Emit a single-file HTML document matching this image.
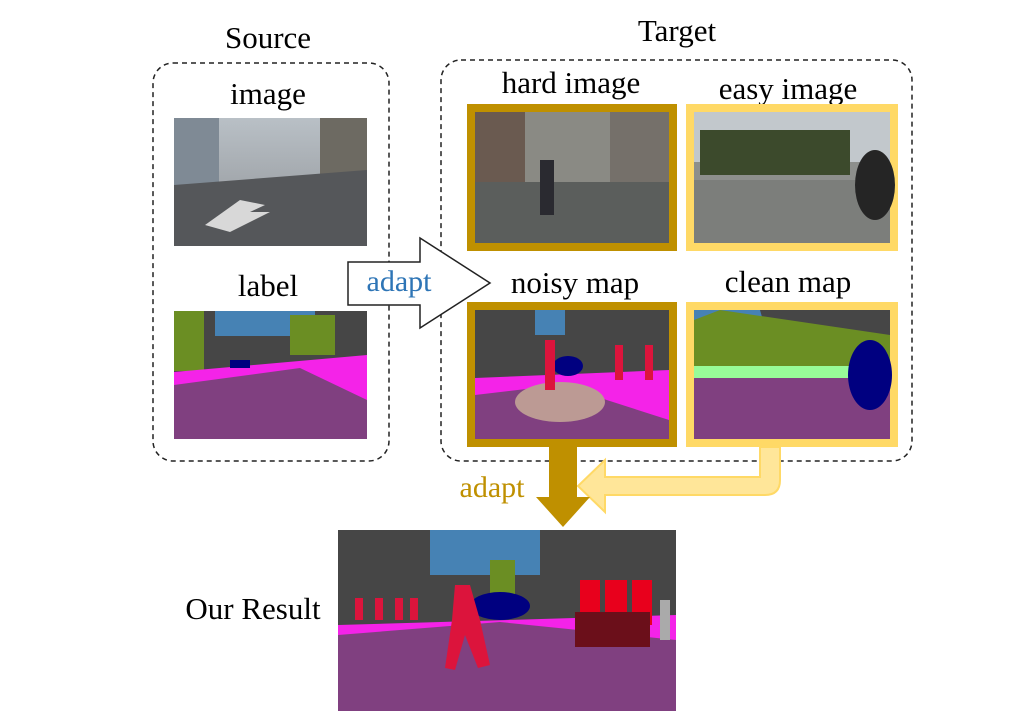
<!DOCTYPE html>
<html><head><meta charset="utf-8"><style>
html,body{margin:0;padding:0;background:#fff;}
body{width:1031px;height:711px;overflow:hidden;position:relative;}
svg text{font-family:"Liberation Serif",serif;}
</style></head><body>
<svg width="1031" height="711" viewBox="0 0 1031 711" xmlns="http://www.w3.org/2000/svg">
<defs>
<linearGradient id="sky1" x1="0" y1="0" x2="0" y2="1"><stop offset="0" stop-color="#b9c0c6"/><stop offset="1" stop-color="#8d9094"/></linearGradient>
</defs>
<text x="268" y="48" font-size="31" text-anchor="middle">Source</text>
<text x="677" y="41" font-size="31" text-anchor="middle">Target</text>
<rect x="153" y="63" width="236" height="398" rx="20" fill="none" stroke="#222" stroke-width="1.5" stroke-dasharray="5,4"/>
<rect x="441" y="60" width="471" height="401" rx="20" fill="none" stroke="#222" stroke-width="1.5" stroke-dasharray="5,4"/>
<text x="268" y="104" font-size="31" text-anchor="middle">image</text>
<text x="268" y="296" font-size="31" text-anchor="middle">label</text>
<text x="571" y="93" font-size="31" text-anchor="middle">hard image</text>
<text x="788" y="99" font-size="31" text-anchor="middle">easy image</text>
<text x="575" y="293" font-size="31" text-anchor="middle">noisy map</text>
<text x="788" y="292" font-size="31" text-anchor="middle">clean map</text>
<text x="253" y="619" font-size="31" text-anchor="middle">Our Result</text>

<rect x="174" y="118" width="193" height="128" fill="url(#sky1)"/>
<rect x="174" y="118" width="45" height="70" fill="#7f8a95"/>
<rect x="320" y="118" width="47" height="60" fill="#6d6a62"/>
<polygon points="174,185 367,170 367,246 174,246" fill="#55575a"/>
<polygon points="205,225 240,200 265,205 250,212 270,212 230,232" fill="#d8d8d8"/>

<rect x="174" y="311" width="193" height="128" fill="#464646"/>
<rect x="215" y="311" width="100" height="25" fill="#4682b4"/>
<rect x="174" y="311" width="30" height="60" fill="#6b8e23"/>
<rect x="290" y="315" width="45" height="40" fill="#6b8e23"/>
<polygon points="174,372 367,355 367,439 174,439" fill="#f423e8"/>
<polygon points="174,385 300,368 367,400 367,439 174,439" fill="#804080"/>
<rect x="230" y="360" width="20" height="8" fill="#000080"/>

<rect x="471" y="108" width="202" height="139" fill="#6e7170" stroke="#bf9000" stroke-width="8"/>
<rect x="475" y="112" width="194" height="70" fill="#8a8a84"/>
<rect x="475" y="112" width="50" height="70" fill="#6a5a50"/>
<rect x="610" y="112" width="59" height="70" fill="#75706a"/>
<rect x="475" y="182" width="194" height="61" fill="#5b5e5c"/>
<rect x="540" y="160" width="14" height="55" fill="#2a2a30"/>
<rect x="690" y="108" width="204" height="139" fill="#8d8f8c" stroke="#ffd966" stroke-width="8"/>
<rect x="694" y="112" width="196" height="50" fill="#c2c8cc"/>
<rect x="700" y="130" width="150" height="45" fill="#3c4a2c"/>
<rect x="694" y="180" width="196" height="63" fill="#7c7e7b"/>
<ellipse cx="875" cy="185" rx="20" ry="35" fill="#252525"/>

<rect x="471" y="306" width="202" height="137" fill="#464646" stroke="#bf9000" stroke-width="8"/>
<rect x="535" y="310" width="30" height="25" fill="#4682b4"/>
<polygon points="475,378 669,370 669,439 475,439" fill="#f423e8"/>
<polygon points="475,395 560,385 669,420 669,439 475,439" fill="#804080"/>
<ellipse cx="560" cy="402" rx="45" ry="20" fill="#bc9a94"/>
<ellipse cx="568" cy="366" rx="15" ry="10" fill="#000080"/>
<rect x="545" y="340" width="10" height="50" fill="#dc143c"/>
<rect x="615" y="345" width="8" height="35" fill="#dc143c"/>
<rect x="645" y="345" width="8" height="35" fill="#dc143c"/>
<rect x="690" y="306" width="204" height="137" fill="#464646" stroke="#ffd966" stroke-width="8"/>
<polygon points="694,310 760,310 770,345 694,345" fill="#4682b4"/>
<polygon points="694,320 720,310 890,335 890,370 694,370" fill="#6b8e23"/>
<rect x="694" y="366" width="196" height="14" fill="#98fb98"/>
<rect x="694" y="378" width="196" height="61" fill="#804080"/>
<ellipse cx="870" cy="375" rx="22" ry="35" fill="#000080"/>

<polygon points="348,262 420,262 420,238 490,283 420,328 420,305 348,305" fill="#fff" stroke="#222" stroke-width="1.5"/>
<text x="399" y="291" font-size="30" fill="#2e75b6" text-anchor="middle">adapt</text>

<path d="M760,447 L780,447 L780,480 Q780,495 765,495 L605,495 L605,512 L578,486 L605,460 L605,477 L760,477 Z" fill="#ffe699" stroke="#ffd966" stroke-width="2"/>
<polygon points="549,447 577,447 577,497 590,497 563,527 536,497 549,497" fill="#bf9000"/>
<text x="492" y="497" font-size="30" fill="#bf9000" text-anchor="middle">adapt</text>

<rect x="338" y="530" width="338" height="181" fill="#464646"/>
<rect x="430" y="530" width="110" height="45" fill="#4682b4"/>
<rect x="490" y="560" width="25" height="40" fill="#6b8e23"/>
<polygon points="338,625 676,615 676,711 338,711" fill="#f423e8"/>
<polygon points="338,635 500,622 676,640 676,711 338,711" fill="#804080"/>
<ellipse cx="500" cy="606" rx="30" ry="14" fill="#000080"/>
<polygon points="455,585 470,585 480,620 490,665 478,668 465,635 455,670 445,668 452,620" fill="#dc143c"/>
<rect x="580" y="580" width="20" height="45" fill="#e8001c"/>
<rect x="605" y="580" width="22" height="45" fill="#e8001c"/>
<rect x="632" y="580" width="20" height="45" fill="#e8001c"/>
<rect x="575" y="612" width="75" height="35" fill="#6b0f1a"/>
<rect x="355" y="598" width="8" height="22" fill="#dc143c"/>
<rect x="375" y="598" width="8" height="22" fill="#dc143c"/>
<rect x="395" y="598" width="8" height="22" fill="#dc143c"/>
<rect x="410" y="598" width="8" height="22" fill="#dc143c"/>
<rect x="660" y="600" width="10" height="40" fill="#aaaaaa"/>
</svg>
</body></html>
